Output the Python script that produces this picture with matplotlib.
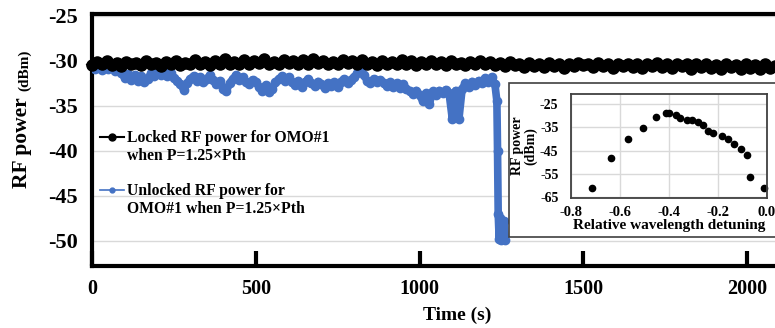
import numpy as np
import matplotlib
matplotlib.use('Agg')
import matplotlib.pyplot as plt
from matplotlib.lines import Line2D
from matplotlib.patches import Rectangle

#=======================================================
# Data
#=======================================================

# locked trace, one value every 15 s from 0 to 2085 s
locked_t = np.arange(0, 2100, 15)
locked_p = [
    -30.5, -30.1, -30.4, -30.0, -30.5, -30.2, -30.6, -30.1, -30.4, -30.2,
    -30.5, -30.0, -30.4, -30.2, -30.6, -30.1, -30.3, -30.0, -30.5, -30.2,
    -30.4, -29.9, -30.3, -30.1, -30.5, -30.0, -30.3, -29.8, -30.4, -30.1,
    -30.3, -29.9, -30.4, -30.0, -30.2, -29.8, -30.3, -30.1, -30.4, -29.9,
    -30.2, -30.0, -30.4, -29.9, -30.3, -29.8, -30.2, -30.0, -30.4, -30.1,
    -30.3, -29.9, -30.2, -30.0, -30.4, -29.9, -30.3, -30.1, -30.5, -30.0,
    -30.3, -30.1, -30.4, -29.9, -30.3, -30.0, -30.5, -30.1, -30.4, -30.0,
    -30.3, -30.1, -30.5, -30.0, -30.4, -30.2, -30.5, -30.1, -30.3, -30.0,
    -30.4, -30.1, -30.5, -30.2, -30.6, -30.1, -30.5, -30.3, -30.7, -30.2,
    -30.6, -30.3, -30.7, -30.2, -30.6, -30.4, -30.8, -30.3, -30.6, -30.2,
    -30.5, -30.3, -30.7, -30.2, -30.6, -30.4, -30.8, -30.3, -30.6, -30.3,
    -30.7, -30.4, -30.8, -30.3, -30.6, -30.2, -30.7, -30.4, -30.8, -30.3,
    -30.6, -30.4, -30.9, -30.3, -30.7, -30.4, -30.8, -30.5, -30.9, -30.4,
    -30.7, -30.5, -30.9, -30.4, -30.8, -30.5, -30.9, -30.4, -30.8, -30.6,
]

# unlocked trace, every 10 s up to 1230 s, then the drop
unlocked_t = list(range(0, 1240, 10)) + [1236, 1238, 1240, 1243, 1246,
                                         1249, 1252, 1255, 1258, 1261]
unlocked_p = [
    -30.6, -30.9, -30.6, -31.0, -30.7, -30.9, -30.7, -31.1, -30.8, -31.4,
    -31.9, -31.5, -32.1, -31.6, -32.2, -31.7, -32.3, -32.0, -31.4, -31.7,
    -31.3, -31.6, -31.2, -31.7, -31.4, -31.9, -32.2, -32.6, -33.2, -32.5,
    -32.0, -31.7, -32.2, -31.8, -32.4, -32.0, -31.6, -32.1, -32.6, -32.2,
    -33.1, -33.4, -32.5, -32.0, -31.6, -32.1, -31.8, -32.3, -32.6, -32.1,
    -32.4, -32.9, -33.3, -32.7, -33.5, -33.1, -32.4, -32.0, -31.7, -32.2,
    -31.8, -32.3, -32.7, -32.2, -32.9, -32.4, -32.0, -32.5, -32.8, -32.3,
    -32.6, -33.0, -32.5, -32.8, -32.4, -32.9, -32.3, -32.0, -32.5, -32.1,
    -31.8, -31.4, -31.1, -31.6, -32.2, -32.5, -32.0, -32.4, -32.1, -32.5,
    -32.8, -32.4, -32.9, -32.5, -33.0, -32.6, -33.1, -33.4, -33.7, -33.3,
    -33.8, -34.5, -33.6, -34.8, -33.4, -33.8, -33.3, -33.6, -33.2, -33.6,
    -36.5, -33.3, -36.5, -33.1, -32.5, -32.9, -32.3, -32.7, -32.2, -32.5,
    -31.9, -32.3, -31.8, -32.6,
    -34.5, -40.0, -47.0, -49.8, -47.5, -49.9, -48.0, -49.8, -47.8, -49.9,
]

# inset: RF power vs relative wavelength detuning
detuning = [-0.716, -0.635, -0.567, -0.506, -0.452, -0.411, -0.398, -0.370,
            -0.354, -0.327, -0.307, -0.283, -0.262, -0.242, -0.219, -0.183,
            -0.161, -0.133, -0.106, -0.083, -0.070, -0.011]
inset_p = [-61.0, -48.1, -40.0, -35.3, -30.7, -28.9, -28.9, -29.9,
           -31.0, -32.0, -31.7, -32.9, -34.2, -36.5, -37.5, -38.9,
           -40.0, -42.1, -44.1, -47.0, -56.4, -61.0]

xticks = [0, 500, 1000, 1500, 2000]
yticks = [-50, -45, -40, -35, -30, -25]
inset_xticks = [-0.8, -0.6, -0.4, -0.2, 0.0]
inset_yticks = [-65, -55, -45, -35, -25]

label_locked = ['Locked RF power for OMO#1', 'when P=1.25\u00d7Pth']
label_unlocked = ['Unlocked RF power for', 'OMO#1 when P=1.25\u00d7Pth']

blue = '#4472C4'

#=======================================================
# Plot
#=======================================================

plt.rcParams['font.family'] = ['Liberation Serif', 'DejaVu Serif']
plt.rcParams['font.weight'] = 'bold'
plt.rcParams['axes.labelweight'] = 'bold'

W, H = 775, 328
fig = plt.figure(figsize=(W/100, H/100), dpi=100)

ax = fig.add_axes([92/W, (H-266)/H, (W-92)/W, (266-14)/H])
ax.plot(unlocked_t, unlocked_p, '-', color=blue, lw=5.5, marker='o', ms=6,
        zorder=3)
ax.plot(locked_t, locked_p, '-', color='black', lw=6.5, marker='o', ms=8,
        zorder=4, clip_on=False)

ax.set_xlim(0, 2085)
ax.set_ylim(-52.8, -24.8)
ax.set_xticks(xticks)
ax.set_yticks(yticks)
ax.set_yticklabels([str(v) for v in yticks])
ax.grid(axis='y', color='#d9d9d9', lw=1)
ax.set_axisbelow(True)

for s in ['left', 'bottom', 'top']:
    ax.spines[s].set_linewidth(3)
ax.spines['right'].set_visible(False)
ax.tick_params(axis='y', length=0, pad=10, labelsize=16)
ax.tick_params(axis='x', direction='in', length=11, width=3, pad=9,
               labelsize=14.5)

ax.set_xlabel('Time (s)', fontsize=14, va='center')
ax.xaxis.set_label_coords((457-92)/(W-92), -(315-266)/252)
fig.text(22/W, 1-143/H, 'RF power', rotation=90, fontsize=15.5,
         ha='center', va='center')
fig.text(25/W, 1-70/H, '(dBm)', rotation=90, fontsize=11,
         ha='center', va='center')

# legend, split in lines so the key sits next to the first line
empty = Line2D([], [], color='none')
h_locked = Line2D([], [], color='black', lw=1.5, marker='o', ms=5)
h_unlocked = Line2D([], [], color=blue, lw=1.2, marker='o', ms=3.5)
ax.legend([h_locked, empty, empty, h_unlocked, empty],
          [label_locked[0], label_locked[1], ' ', label_unlocked[0],
           label_unlocked[1]],
          loc='upper left', bbox_to_anchor=(8/683, (266-130)/252),
          frameon=False, fontsize=11.3, handlelength=1.55,
          handletextpad=0.2, labelspacing=0.11, borderpad=0,
          borderaxespad=0)

#=======================================================
# Inset
#=======================================================

box = Rectangle((509/W, (H-237)/H), 290/W, (237-83)/H,
                transform=fig.transFigure, facecolor='white',
                edgecolor='#404040', lw=1.2, zorder=1)
fig.patches.append(box)

axi = fig.add_axes([571/W, (H-198)/H, (767-571)/W, (198-94)/H], zorder=2)
axi.plot(detuning, inset_p, 'o', color='black', ms=4.5, clip_on=False)
axi.set_xlim(-0.8, 0.0)
axi.set_ylim(-65.3, -20.7)
axi.set_xticks(inset_xticks)
axi.set_xticklabels(['-0.8', '-0.6', '-0.4', '-0.2', '0.0'])
axi.set_yticks(inset_yticks)
axi.set_yticklabels([str(v) for v in inset_yticks])
axi.grid(color='#d9d9d9', lw=1)
axi.set_axisbelow(True)
for s in axi.spines.values():
    s.set_linewidth(1.3)
    s.set_color('#404040')
axi.tick_params(axis='x', length=0, labelsize=10.5, pad=6)
axi.tick_params(axis='y', length=0, labelsize=10, pad=9)
axi.set_xlabel('Relative wavelength detuning', fontsize=11, labelpad=0)
axi.set_ylabel('RF power\n(dBm)', fontsize=10, labelpad=2, linespacing=0.95)

fig.savefig('out.png', dpi=100)
